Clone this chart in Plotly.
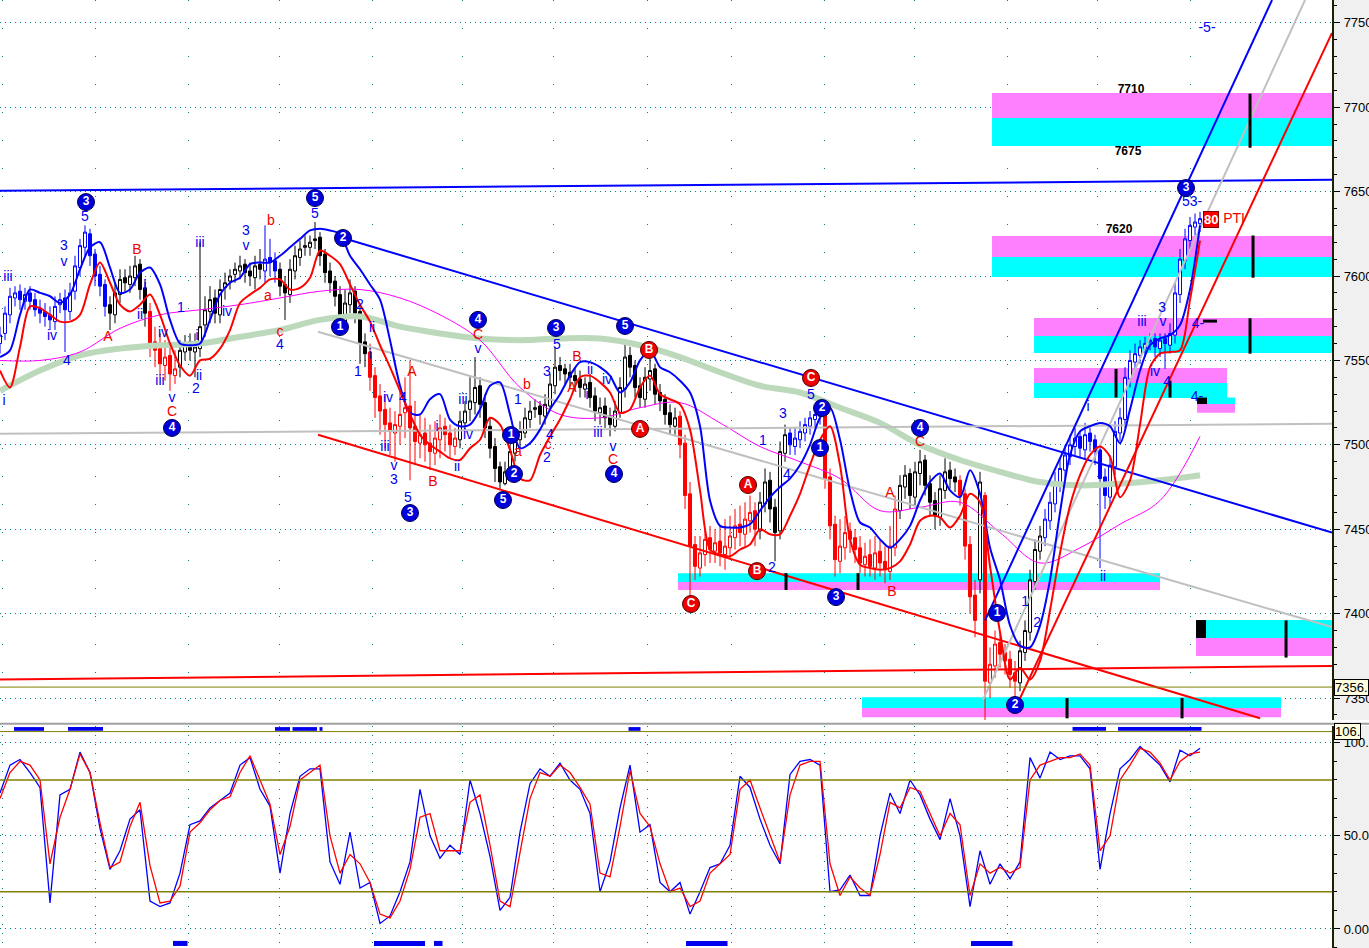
import plotly.graph_objects as go

# ---- price bars, one per bar index ----
opens = [7560, 7566, 7577, 7587, 7591, 7585, 7590, 7586, 7581, 7579,
         7577, 7573, 7583, 7587, 7579, 7591, 7605, 7617, 7625, 7613,
         7601, 7595, 7583, 7577, 7589, 7599, 7595, 7599, 7607, 7593,
         7579, 7561, 7557, 7547, 7553, 7541, 7546, 7555, 7561, 7555,
         7557, 7571, 7579, 7587, 7577, 7593, 7597, 7601, 7603, 7607,
         7603, 7599, 7607, 7603, 7611, 7609, 7604, 7595, 7589, 7603,
         7611, 7617, 7617, 7621, 7623, 7613, 7603, 7597, 7589, 7571,
         7583, 7591, 7579, 7561, 7555, 7541, 7529, 7521, 7513, 7507,
         7511, 7519, 7523, 7511, 7501, 7507, 7501, 7495, 7503, 7511,
         7507, 7499, 7503, 7513, 7521, 7525, 7535, 7525, 7511, 7499,
         7487, 7477, 7483, 7495, 7503, 7507, 7515, 7521, 7523, 7517,
         7523, 7535, 7547, 7545, 7543, 7541, 7539, 7533, 7537, 7529,
         7519, 7523, 7517, 7511, 7519, 7533, 7553, 7547, 7535, 7527,
         7539, 7545, 7531, 7527, 7519, 7511, 7517, 7501, 7471, 7441,
         7427, 7435, 7445, 7437, 7443, 7435, 7439, 7445, 7453, 7447,
         7455, 7461, 7449, 7465, 7479, 7463, 7449, 7495, 7507, 7499,
         7503, 7507, 7511, 7515, 7517, 7521, 7481, 7453, 7431, 7439,
         7449, 7445, 7439, 7429, 7435, 7427, 7437, 7431, 7425, 7439,
         7461, 7475, 7483, 7469, 7483, 7491, 7477, 7467, 7457, 7473,
         7485, 7481, 7479, 7471, 7441, 7411, 7420, 7470, 7359, 7369,
         7383, 7377, 7373, 7365, 7359, 7377, 7389, 7419, 7437, 7445,
         7455, 7465, 7477, 7485, 7493, 7499, 7505, 7497, 7507, 7503,
         7497, 7481, 7469, 7487, 7507, 7515, 7539, 7549, 7553, 7557,
         7561, 7563, 7557, 7563, 7559, 7565, 7589, 7609, 7621, 7629,
         7631]
highs = [7570, 7582, 7593, 7594, 7595, 7593, 7594, 7590, 7586, 7584,
         7582, 7588, 7590, 7592, 7596, 7612, 7622, 7630, 7628, 7616,
         7606, 7598, 7588, 7596, 7604, 7604, 7606, 7612, 7610, 7598,
         7584, 7570, 7566, 7562, 7560, 7556, 7562, 7565, 7566, 7566,
         7620, 7588, 7594, 7592, 7598, 7602, 7604, 7608, 7612, 7610,
         7608, 7612, 7616, 7630, 7622, 7614, 7608, 7600, 7610, 7618,
         7621, 7624, 7624, 7632, 7626, 7616, 7608, 7600, 7594, 7592,
         7598, 7594, 7584, 7566, 7560, 7546, 7536, 7530, 7522, 7520,
         7532, 7540, 7550, 7526, 7518, 7516, 7512, 7514, 7518, 7516,
         7512, 7510, 7520, 7526, 7540, 7552, 7540, 7530, 7516, 7504,
         7490, 7490, 7500, 7508, 7514, 7522, 7526, 7527, 7526, 7530,
         7542, 7558, 7552, 7548, 7548, 7546, 7544, 7540, 7542, 7534,
         7528, 7528, 7522, 7526, 7540, 7562, 7558, 7550, 7540, 7546,
         7553, 7548, 7536, 7530, 7524, 7522, 7520, 7506, 7478, 7446,
         7446, 7450, 7452, 7450, 7452, 7456, 7458, 7462, 7464, 7466,
         7470, 7466, 7472, 7486, 7484, 7468, 7502, 7512, 7510, 7510,
         7514, 7516, 7520, 7522, 7524, 7524, 7486, 7458, 7456, 7458,
         7454, 7450, 7446, 7442, 7444, 7446, 7444, 7440, 7452, 7470,
         7482, 7488, 7486, 7490, 7497, 7494, 7482, 7472, 7482, 7492,
         7490, 7486, 7482, 7474, 7446, 7420, 7484, 7472, 7380, 7390,
         7388, 7382, 7378, 7372, 7384, 7396, 7426, 7444, 7452, 7462,
         7472, 7484, 7492, 7500, 7506, 7510, 7508, 7513, 7510, 7506,
         7500, 7486, 7494, 7514, 7522, 7546, 7556, 7560, 7562, 7564,
         7566, 7566, 7566, 7566, 7572, 7596, 7616, 7628, 7635, 7637,
         7638]
lows = [7554, 7562, 7572, 7582, 7580, 7580, 7580, 7576, 7572, 7570,
        7568, 7568, 7578, 7555, 7574, 7586, 7600, 7612, 7606, 7594,
        7588, 7576, 7568, 7572, 7584, 7590, 7590, 7594, 7586, 7570,
        7552, 7546, 7540, 7538, 7532, 7536, 7540, 7550, 7550, 7540,
        7552, 7564, 7572, 7572, 7572, 7586, 7592, 7596, 7598, 7596,
        7594, 7592, 7598, 7596, 7600, 7596, 7588, 7574, 7584, 7598,
        7606, 7612, 7612, 7616, 7606, 7596, 7590, 7582, 7570, 7566,
        7578, 7572, 7548, 7546, 7532, 7516, 7506, 7498, 7494, 7490,
        7500, 7504, 7479, 7488, 7492, 7490, 7485, 7488, 7492, 7496,
        7492, 7494, 7498, 7508, 7514, 7518, 7516, 7504, 7492, 7478,
        7474, 7476, 7480, 7490, 7498, 7504, 7510, 7516, 7512, 7512,
        7520, 7530, 7538, 7536, 7534, 7532, 7528, 7528, 7522, 7514,
        7512, 7510, 7505, 7508, 7516, 7528, 7540, 7528, 7522, 7522,
        7532, 7524, 7520, 7512, 7506, 7506, 7492, 7462, 7410, 7420,
        7422, 7428, 7430, 7430, 7428, 7426, 7432, 7438, 7440, 7440,
        7448, 7440, 7444, 7460, 7454, 7431, 7444, 7490, 7494, 7494,
        7498, 7502, 7506, 7510, 7512, 7474, 7444, 7422, 7424, 7432,
        7436, 7430, 7424, 7422, 7422, 7420, 7422, 7418, 7420, 7434,
        7456, 7468, 7462, 7464, 7476, 7470, 7458, 7450, 7452, 7468,
        7474, 7472, 7464, 7432, 7400, 7386, 7412, 7337, 7350, 7362,
        7368, 7364, 7356, 7348, 7354, 7372, 7384, 7414, 7432, 7440,
        7450, 7460, 7472, 7480, 7488, 7494, 7492, 7492, 7496, 7488,
        7427, 7462, 7464, 7482, 7502, 7510, 7534, 7544, 7548, 7552,
        7556, 7552, 7552, 7545, 7554, 7560, 7584, 7604, 7616, 7624,
        7626]
closes = [7565, 7578, 7588, 7590, 7586, 7589, 7585, 7580, 7578, 7576,
          7574, 7582, 7586, 7580, 7590, 7606, 7618, 7626, 7612, 7600,
          7594, 7582, 7578, 7590, 7598, 7596, 7600, 7606, 7592, 7578,
          7560, 7556, 7548, 7552, 7542, 7545, 7556, 7560, 7556, 7558,
          7570, 7580, 7586, 7578, 7592, 7596, 7600, 7604, 7606, 7602,
          7600, 7606, 7604, 7610, 7608, 7603, 7594, 7590, 7604, 7612,
          7616, 7618, 7620, 7622, 7612, 7602, 7596, 7588, 7572, 7584,
          7590, 7578, 7560, 7554, 7540, 7528, 7520, 7512, 7508, 7512,
          7518, 7522, 7510, 7502, 7506, 7500, 7496, 7504, 7510, 7506,
          7500, 7504, 7514, 7520, 7526, 7534, 7524, 7510, 7498, 7486,
          7478, 7484, 7496, 7502, 7508, 7516, 7520, 7522, 7518, 7524,
          7536, 7546, 7544, 7542, 7540, 7538, 7534, 7536, 7528, 7520,
          7522, 7516, 7512, 7520, 7534, 7552, 7546, 7534, 7528, 7540,
          7544, 7530, 7526, 7518, 7512, 7516, 7500, 7470, 7440, 7428,
          7436, 7444, 7438, 7442, 7436, 7440, 7446, 7452, 7448, 7456,
          7460, 7450, 7466, 7478, 7462, 7448, 7496, 7506, 7500, 7504,
          7508, 7512, 7516, 7518, 7520, 7480, 7452, 7432, 7440, 7448,
          7444, 7438, 7430, 7434, 7428, 7436, 7430, 7426, 7440, 7462,
          7476, 7482, 7470, 7484, 7490, 7476, 7466, 7458, 7474, 7484,
          7480, 7478, 7470, 7440, 7410, 7396, 7478, 7360, 7370, 7382,
          7376, 7372, 7364, 7360, 7378, 7390, 7420, 7438, 7446, 7456,
          7466, 7478, 7486, 7494, 7500, 7504, 7498, 7506, 7502, 7496,
          7480, 7470, 7488, 7508, 7516, 7540, 7550, 7554, 7558, 7560,
          7562, 7558, 7562, 7560, 7566, 7590, 7610, 7622, 7630, 7632,
          7634]

# ---- averages: fast ones every 2nd bar, slow ones every 8th bar ----
ma_blue = [7552, 7556, 7577, 7592, 7590, 7588, 7584, 7589, 7604, 7617,
           7620, 7605, 7590, 7592, 7602, 7605, 7595, 7574, 7560, 7559,
           7560, 7574, 7589, 7596, 7599, 7607, 7608, 7608, 7612, 7617,
           7622, 7627, 7628, 7627, 7625, 7612, 7604, 7595, 7586, 7562,
           7535, 7519, 7518, 7527, 7530, 7515, 7511, 7512, 7521, 7535,
           7537, 7518, 7498, 7501, 7509, 7521, 7530, 7541, 7549, 7549,
           7546, 7541, 7531, 7537, 7550, 7556, 7546, 7543, 7538, 7531,
           7511, 7467, 7452, 7451, 7451, 7453, 7461, 7469, 7475, 7480,
           7488, 7500, 7516, 7522, 7503, 7473, 7454, 7451, 7444, 7439,
           7444, 7452, 7467, 7478, 7483, 7473, 7469, 7485, 7471, 7439,
           7420, 7393, 7381, 7380, 7393, 7420, 7460, 7494, 7508, 7511,
           7513, 7511, 7501, 7521, 7544, 7559, 7563, 7565, 7571, 7592,
           7630]
ma_red = [7544, 7534, 7558, 7582, 7581, 7577, 7573, 7573, 7577, 7595,
          7608, 7596, 7583, 7579, 7583, 7589, 7577, 7560, 7547, 7541,
          7550, 7551, 7557, 7568, 7584, 7589, 7593, 7598, 7598, 7592,
          7593, 7599, 7615, 7612, 7607, 7595, 7583, 7573, 7559, 7546,
          7532, 7518, 7506, 7500, 7496, 7492, 7491, 7498, 7503, 7516,
          7512, 7497, 7480, 7479, 7494, 7505, 7515, 7527, 7540, 7541,
          7537, 7531, 7519, 7521, 7534, 7541, 7530, 7527, 7524, 7509,
          7473, 7438, 7435, 7434, 7438, 7441, 7450, 7447, 7447, 7458,
          7471, 7488, 7503, 7511, 7488, 7444, 7429, 7427, 7426, 7427,
          7431, 7441, 7455, 7458, 7457, 7451, 7458, 7471, 7466, 7428,
          7389, 7361, 7368, 7361, 7372, 7402, 7436, 7464, 7482, 7494,
          7499, 7493, 7469, 7479, 7512, 7546, 7554, 7555, 7556, 7586,
          7621]
ma_magenta = [7550, 7550, 7555, 7569, 7577, 7580, 7583, 7587, 7591, 7592,
              7587, 7577, 7562, 7534, 7518, 7516, 7522, 7525, 7513, 7499,
              7490, 7480, 7461, 7463, 7466, 7448, 7430, 7439, 7453, 7467,
              7505]
ma_green = [7532, 7544, 7553, 7557, 7559, 7560, 7564, 7568, 7574, 7576,
            7570, 7566, 7563, 7562, 7563, 7563, 7559, 7552, 7543, 7535,
            7531, 7522, 7513, 7500, 7491, 7484, 7478, 7476, 7477, 7479,
            7482]

# ---- stochastic, every 2nd bar ----
stoch_k = [73, 88, 91, 84, 76, 14, 72, 75, 95, 84,
           54, 32, 42, 59, 64, 15, 12, 14, 30, 56,
           58, 65, 69, 73, 88, 92, 75, 66, 30, 62,
           82, 86, 86, 36, 24, 52, 22, 25, 3, 7,
           20, 36, 75, 50, 38, 45, 40, 80, 62, 39,
           10, 17, 52, 78, 86, 82, 89, 80, 75, 62,
           20, 36, 65, 88, 52, 56, 25, 20, 25, 8,
           20, 33, 35, 45, 82, 76, 59, 45, 35, 83,
           90, 91, 88, 20, 21, 29, 18, 18, 50, 73,
           62, 80, 72, 59, 48, 70, 50, 12, 42, 24,
           35, 27, 36, 92, 81, 95, 91, 93, 93, 86,
           32, 62, 86, 91, 98, 93, 88, 79, 96, 93,
           97]
stoch_d = [70, 84, 90, 88, 80, 35, 60, 75, 94, 84,
           57, 33, 36, 55, 68, 34, 14, 15, 23, 52,
           57, 64, 69, 71, 84, 93, 80, 67, 40, 55,
           80, 84, 88, 50, 30, 40, 35, 25, 8, 6,
           15, 32, 60, 62, 42, 42, 42, 68, 72, 45,
           15, 12, 40, 70, 84, 82, 88, 84, 76, 67,
           30, 28, 55, 85, 62, 55, 35, 20, 22, 12,
           15, 30, 35, 40, 75, 80, 65, 50, 36, 72,
           88, 90, 90, 35, 18, 28, 22, 18, 40, 68,
           65, 76, 74, 62, 50, 62, 56, 18, 35, 30,
           33, 30, 33, 80, 88, 90, 92, 92, 94, 88,
           42, 50, 80, 88, 97, 95, 89, 80, 90, 94,
           95]

# ---- trend lines (bar index, price) ----
tl_x0 = [0, 68.6, 63.6, 63.6, 0, 0, 197, 196.6, 202.6]
tl_p0 = [7650.5, 7622.5, 7506, 7567, 7506.5, 7361, 7396, 7349, 7341]
tl_x1 = [266.4, 266.4, 252, 266.4, 266.4, 266.4, 254.4, 261, 266.4]
tl_p1 = [7657, 7448, 7338, 7392, 7512.5, 7369, 7763.5, 7763.5, 7744]

# ---- target zones ----
zone_x0 = [198.4, 198.4, 206.8, 206.8, 239.4, 135.6, 239.2, 172.4]
zone_x1 = [266.4, 266.4, 266.4, 245.4, 247, 232, 266.4, 256.2]
zone_top = [7708.4, 7623.7, 7575.1, 7545.5, 7528, 7424, 7396.2, 7350.5]
zone_mid = [7693.6, 7611.3, 7564.5, 7536.6, 7524.2, 7418.7, 7385.6, 7344.1]
zone_bot = [7677, 7599.4, 7554.4, 7527.7, 7519, 7414, 7374.9, 7338.6]

# black target ticks
mark_x = [250, 250.6, 250, 223.2, 234, 157.2, 171.6, 257.2, 213.4, 236.4]
mark_top = [7708, 7624, 7575, 7545, 7538, 7424, 7424, 7396, 7350, 7350]
mark_bot = [7676, 7599, 7554, 7528, 7528, 7414, 7414, 7374, 7338, 7338]

# signal strips in the oscillator pane
sig_top_x0 = [2.8, 13.6, 55, 58.5, 63.9, 125.7, 214.5, 223.6]
sig_top_x1 = [8.8, 20.6, 58, 63.4, 64.5, 128.1, 221.2, 240.3]
sig_bot_x0 = [34.6, 74.8, 86.8, 137.2, 194.2]
sig_bot_x1 = [37.5, 85, 88.5, 145.5, 202.5]

# date separators
grid_x = [0.4, 19, 37.6, 55.8, 74.4, 92.4, 110.6, 129.4, 146.2, 164.9,
          182.8, 201.4, 219.4, 238]

# ---- wave labels ----
blue_txt = ['iii', 'iv', '4', '3', 'v', '5', 'i', 'ii', 'iii', 'iv',
            'v', '1', '2', 'ii', 'iii', 'i', 'iv', '3', 'v', '4',
            '5', 'i', '1', 'i', 'ii', '2', 'iv', '4', 'iii', 'v',
            '3', '5', 'i', 'ii', 'iii', 'iv', 'v', '1', '4', '2',
            '3', '5', 'i', 'ii', 'iv', 'iii', 'v', '1', '3', '4',
            '2', '5', 'ii', 'i', '1', '2', 'iii', 'iv', '3', 'v',
            '4', '4-', '4-', '53-', '-5-']
blue_x = [1.6, 10.4, 13.4, 12.8, 12.8, 17, 29, 28, 32, 32.6,
          34.4, 36.2, 39.2, 39.8, 40, 39.4, 45.4, 49.2, 49.2, 56,
          63, 0.8, 71.6, 74, 74.4, 72, 77.6, 80.6, 77, 78.8,
          78.8, 81.6, 87.4, 91.4, 92.6, 93.6, 95.6, 103.6, 110, 109.4,
          109.4, 111.4, 117.4, 118, 121.4, 119.6, 122.6, 152.6, 156.6, 157.4,
          154.4, 162.2, 220.6, 217.6, 205, 207.4, 228.4, 231, 232.4, 232.6,
          233.4, 239.6, 239.4, 238.4, 241.4]
blue_p = [7599.4, 7563.9, 7549.1, 7617.2, 7608.3, 7634.4, 7593.5, 7576.9, 7537.8, 7566.2,
          7527.7, 7581, 7532.5, 7540.2, 7619, 7563.9, 7578.1, 7626.1, 7617.2, 7559.1,
          7636.7, 7525.4, 7543.1, 7553.2, 7569.2, 7582.8, 7527.7, 7527.7, 7498.7, 7487.4,
          7479.1, 7468.5, 7510, 7486.3, 7526.5, 7505.8, 7556.2, 7526.5, 7505.8, 7492.2,
          7543.1, 7559.1, 7529.5, 7544.3, 7538.4, 7507, 7498.7, 7501.7, 7517.7, 7482.1,
          7427, 7529.5, 7421.7, 7522.4, 7406.9, 7394.4, 7572.2, 7543.1, 7581, 7572.7,
          7537.2, 7571, 7528.3, 7643.8, 7746.9]

red_txt = ['A', 'B', 'C', 'b', 'a', 'c', 'A', 'B', 'C', 'b',
           'a', 'c', 'B', 'A', 'C', 'A', 'B', 'C', 'PTI']
red_x = [21.6, 27.4, 34.4, 54.2, 53.6, 56, 82.4, 86.6, 95.6, 105.4,
         103.6, 109.6, 115.4, 114.4, 122.6, 178, 178.4, 184, 246.8]
red_p = [7563.3, 7615.4, 7519.4, 7632, 7587.6, 7566.8, 7543.1, 7477.4, 7565, 7535.4,
         7495.7, 7499.9, 7552, 7533.6, 7491, 7471.4, 7412.8, 7501.1, 7633.2]

level_txt = ['7710', '7675', '7620']
level_x = [226.2, 225.6, 223.8]
level_p = [7710.2, 7673.5, 7627.2]

circ_blue_txt = ['3', '5', '2', '1', '4', '4', '3', '5', '4', '1',
                 '2', '5', '3', '2', '1', '3', '4', '1', '2', '3']
circ_blue_x = [17.2, 63, 68.6, 68, 34.4, 95.6, 111.2, 125, 122.8, 102.2,
               102.8, 100.6, 82, 164.4, 164, 167.2, 184, 199.4, 203, 237.2]
circ_blue_p = [7643.8, 7646.2, 7622.5, 7569.8, 7510, 7574, 7569.2, 7570.4, 7482.7, 7505.8,
               7482.7, 7467.3, 7459.6, 7521.8, 7498.1, 7409.8, 7510, 7400.4, 7345.9, 7652.1]
circ_red_txt = ['B', 'A', 'C', 'A', 'B', 'C']
circ_red_x = [129.8, 128, 162.2, 149.6, 151.4, 138.2]
circ_red_p = [7556.2, 7509.4, 7539.6, 7476.2, 7425.2, 7405.7]

last_price = 7356.5
osc_cap = 106

FONT = 'Arial'
BLUE = '#0000ff'
RED = '#ff0000'
GRAY = '#c0c0c0'

n = len(closes)
bars = list(range(n))
x2 = [2 * i for i in range(len(ma_blue))]
x8 = [8 * i for i in range(len(ma_green))]

seg_blue = [(0, 21), (53, 55), (158, 164), (209, 240)]
seg_red = [(30, 35), (74, 91), (136, 151), (165, 179), (192, 195), (197, 203)]


def colour_of(i):
    for a, b in seg_blue:
        if a <= i <= b:
            return BLUE
    for a, b in seg_red:
        if a <= i <= b:
            return RED
    return '#000000'


fig = go.Figure()

# slow averages behind the bars
fig.add_trace(go.Scatter(x=x8, y=ma_green, mode='lines', line=dict(color='#bcd9bc', width=6, shape='spline'),
                         xaxis='x', yaxis='y'))
fig.add_trace(go.Scatter(x=x8, y=ma_magenta, mode='lines', line=dict(color='#ff00ff', width=1, shape='spline'),
                         xaxis='x', yaxis='y'))

tl_col = [BLUE, BLUE, RED, GRAY, GRAY, RED, BLUE, GRAY, RED]
for k in range(len(tl_x0)):
    fig.add_trace(go.Scatter(x=[tl_x0[k], tl_x1[k]], y=[tl_p0[k], tl_p1[k]], mode='lines',
                             line=dict(color=tl_col[k], width=2), xaxis='x', yaxis='y'))

for col in ['#000000', BLUE, RED]:
    idx = [i for i in bars if colour_of(i) == col]
    fig.add_trace(go.Candlestick(
        x=idx, open=[opens[i] for i in idx], high=[highs[i] for i in idx],
        low=[lows[i] for i in idx], close=[closes[i] for i in idx],
        increasing=dict(line=dict(color=col, width=1), fillcolor='white'),
        decreasing=dict(line=dict(color=col, width=1), fillcolor=col),
        whiskerwidth=0, xaxis='x', yaxis='y'))

fig.add_trace(go.Scatter(x=x2, y=ma_blue, mode='lines', line=dict(color=BLUE, width=2, shape='spline', smoothing=0.8),
                         xaxis='x', yaxis='y'))
fig.add_trace(go.Scatter(x=x2, y=ma_red, mode='lines', line=dict(color=RED, width=2, shape='spline', smoothing=0.8),
                         xaxis='x', yaxis='y'))

# target ticks
for k in range(len(mark_x)):
    fig.add_trace(go.Scatter(x=[mark_x[k], mark_x[k]], y=[mark_top[k], mark_bot[k]], mode='lines',
                             line=dict(color='black', width=3), xaxis='x', yaxis='y'))

# labels
fig.add_trace(go.Scatter(x=blue_x, y=blue_p, mode='text', text=blue_txt,
                         textfont=dict(family=FONT, size=14, color='#0000ee'), xaxis='x', yaxis='y'))
fig.add_trace(go.Scatter(x=red_x, y=red_p, mode='text', text=red_txt,
                         textfont=dict(family=FONT, size=14, color='#ee0000'), xaxis='x', yaxis='y'))
fig.add_trace(go.Scatter(x=level_x, y=level_p, mode='text', text=level_txt,
                         textfont=dict(family=FONT, size=12, color='black', weight='bold'), xaxis='x', yaxis='y'))
fig.add_trace(go.Scatter(x=circ_blue_x, y=circ_blue_p, mode='markers+text', text=circ_blue_txt,
                         marker=dict(size=17, color='#0000dd', line=dict(color='#000050', width=1)),
                         textfont=dict(family=FONT, size=12, color='white', weight='bold'),
                         textposition='middle center', xaxis='x', yaxis='y'))
fig.add_trace(go.Scatter(x=circ_red_x, y=circ_red_p, mode='markers+text', text=circ_red_txt,
                         marker=dict(size=17, color='#ee0000', line=dict(color='#500000', width=1)),
                         textfont=dict(family=FONT, size=12, color='white', weight='bold'),
                         textposition='middle center', xaxis='x', yaxis='y'))

# oscillator
fig.add_trace(go.Scatter(x=x2, y=stoch_k, mode='lines', line=dict(color=BLUE, width=1.3), xaxis='x2', yaxis='y2'))
fig.add_trace(go.Scatter(x=x2, y=stoch_d, mode='lines', line=dict(color=RED, width=1.3), xaxis='x2', yaxis='y2'))

shapes = []
for k in range(len(zone_x0)):
    pink_top = k < 4
    up_col = '#ff80ff' if pink_top else '#00ffff'
    lo_col = '#00ffff' if pink_top else '#ff80ff'
    shapes.append(dict(type='rect', xref='x', yref='y', x0=zone_x0[k], x1=zone_x1[k], y0=zone_mid[k],
                       y1=zone_top[k], fillcolor=up_col, line=dict(width=0), layer='between'))
    shapes.append(dict(type='rect', xref='x', yref='y', x0=zone_x0[k], x1=zone_x1[k], y0=zone_bot[k],
                       y1=zone_mid[k], fillcolor=lo_col, line=dict(width=0), layer='between'))
# small black blocks
shapes.append(dict(type='rect', xref='x', yref='y', x0=239.2, x1=241.2, y0=7385.6, y1=7396.2,
                   fillcolor='black', line=dict(width=0)))
shapes.append(dict(type='rect', xref='x', yref='y', x0=239.4, x1=241.4, y0=7524.2, y1=7528,
                   fillcolor='black', line=dict(width=0)))
shapes.append(dict(type='line', xref='x', yref='y', x0=240.6, x1=243.4, y0=7573.3, y1=7573.3,
                   line=dict(color='black', width=3)))
# last price / cap lines
shapes.append(dict(type='line', xref='x', yref='y', x0=0, x1=266.4, y0=last_price, y1=last_price,
                   line=dict(color='#808000', width=1)))
shapes.append(dict(type='line', xref='x2', yref='y2', x0=0, x1=266.4, y0=osc_cap, y1=osc_cap,
                   line=dict(color='#808000', width=1)))
for lvl in (80, 20):
    shapes.append(dict(type='line', xref='x2', yref='y2', x0=0, x1=266.4, y0=lvl, y1=lvl,
                       line=dict(color='#808000', width=1.5)))
for a, b in zip(sig_top_x0, sig_top_x1):
    shapes.append(dict(type='rect', xref='x2', yref='y2', x0=a, x1=b, y0=106.4, y1=108.4,
                       fillcolor='#0000ee', line=dict(width=0)))
for a, b in zip(sig_bot_x0, sig_bot_x1):
    shapes.append(dict(type='rect', xref='x2', yref='y2', x0=a, x1=b, y0=-9.1, y1=-6.4,
                       fillcolor='#0000ee', line=dict(width=0)))
# pane separator
shapes.append(dict(type='rect', xref='paper', yref='paper', x0=0, x1=1, y0=0.2342, y1=0.2405,
                   fillcolor='white', line=dict(width=0)))
shapes.append(dict(type='line', xref='paper', yref='paper', x0=0, x1=1, y0=0.2366, y1=0.2366,
                   line=dict(color='#a0a0a0', width=2)))

annotations = [
    dict(x=0.9745, xref='paper', y=last_price, yref='y', text='7356.', showarrow=False, xanchor='left',
         bgcolor='#ffffe0', bordercolor='black', borderwidth=1, borderpad=0,
         font=dict(family=FONT, size=13, color='black')),
    dict(x=0.9745, xref='paper', y=osc_cap, yref='y2', text='106.', showarrow=False, xanchor='left',
         bgcolor='#ffffe0', bordercolor='black', borderwidth=1, borderpad=0,
         font=dict(family=FONT, size=13, color='black')),
    dict(x=242.2, xref='x', y=7633.2, yref='y', text='80', showarrow=False, bgcolor=RED,
         bordercolor='#800000', borderwidth=1, borderpad=0,
         font=dict(family=FONT, size=13, color='white', weight='bold')),
]

axis_common = dict(showgrid=True, gridcolor='#008080', gridwidth=1, zeroline=False)
fig.update_layout(
    width=1369, height=948, margin=dict(l=0, r=0, t=0, b=0),
    paper_bgcolor='#f0f0f0', plot_bgcolor='white', showlegend=False, boxgap=0.15,
    shapes=shapes, annotations=annotations,
    xaxis=dict(domain=[0, 0.973], range=[0, 266.4], anchor='y', tickvals=grid_x, showticklabels=False,
               ticks='', griddash='1px,27px', rangeslider=dict(visible=False), **axis_common),
    yaxis=dict(domain=[0.2405, 1], range=[7337, 7763.5], side='right', anchor='x',
               tickvals=[7350, 7400, 7450, 7500, 7550, 7600, 7650, 7700, 7750],
               ticks='outside', ticklen=6, tickcolor='black', griddash='1px,4px',
               tickfont=dict(family=FONT, size=13, color='black'), ticklabelstandoff=1,
               showline=True, linecolor='#202000', linewidth=2, automargin=False,
               minor=dict(dtick=10, ticks='outside', ticklen=3, tickcolor='black', showgrid=False),
               **axis_common),
    xaxis2=dict(domain=[0, 0.973], range=[0, 266.4], anchor='y2', matches='x', tickvals=grid_x,
                showticklabels=False, ticks='', griddash='1px,8px', rangeslider=dict(visible=False), **axis_common),
    yaxis2=dict(domain=[0, 0.2342], range=[-10.2, 109], side='right', anchor='x2',
                tickvals=[0, 50, 100], ticktext=['0.00', '50.00', '100.0'],
                ticks='outside', ticklen=6, tickcolor='black', griddash='1px,4px',
                tickfont=dict(family=FONT, size=13, color='black'), ticklabelstandoff=1,
                showline=True, linecolor='#202000', linewidth=2, automargin=False,
                minor=dict(dtick=10, ticks='outside', ticklen=3, tickcolor='black', showgrid=False),
                **axis_common),
)

fig.write_html('out.html', config={'displayModeBar': False},
               post_script="document.body.style.margin='0px';")
